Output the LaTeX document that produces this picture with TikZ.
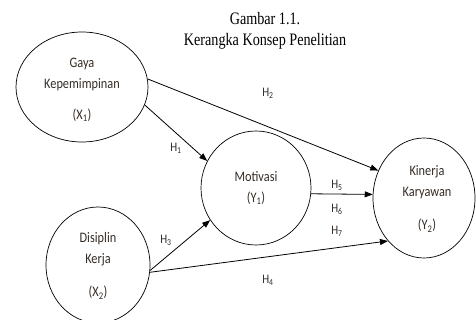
\documentclass[tikz,border=0pt]{standalone}
\usepackage{fontspec}
\setmainfont{Carlito}[FakeStretch=0.85]
\newfontfamily\titlefont{Liberation Serif}[FakeStretch=0.81]
\usetikzlibrary{shapes.geometric,arrows.meta}
\definecolor{txt}{RGB}{52,44,38}
\tikzset{
  var/.style={draw, ellipse, line width=0.7pt, inner sep=0pt, align=center, text=txt, font=\fontsize{14.5}{21}\selectfont},
  conn/.style={line width=0.8pt, -{Triangle[length=8pt,width=6pt]}},
  hlab/.style={text=txt, font=\fontsize{13}{15}\selectfont, inner sep=0pt}
}
\begin{document}
\begin{tikzpicture}[x=1pt,y=-1pt]
\useasboundingbox (0,0) rectangle (476,320);
\node[font=\titlefont\fontsize{17.5}{21.6}\selectfont, align=center] (title) at (265,31) {Gambar 1.1.\\Kerangka Konsep Penelitian};
\node[var, minimum width=132pt, minimum height=110pt] (x1) at (82,87) {};
\node[text=txt, font=\fontsize{14.5}{21}\selectfont, align=center] (x1t) at (82,90) {Gaya\\Kepemimpinan\\[10pt](X\textsubscript{1})};
\node[var, minimum width=110pt, minimum height=114pt] (y1) at (256,188) {Motivasi\\(Y\textsubscript{1})};
\node[var, minimum width=102pt, minimum height=120pt] (y2) at (424,198) {};
\node[text=txt, font=\fontsize{14.5}{21}\selectfont, align=center] (y2t) at (427,199) {Kinerja\\Karyawan\\[12pt](Y\textsubscript{2})};
\node[var, minimum width=104pt, minimum height=116pt] (x2) at (98,265) {};
\node[text=txt, font=\fontsize{14.5}{21}\selectfont, align=center] (x2t) at (98,266) {Disiplin\\Kerja\\[12pt](X\textsubscript{2})};
\draw[conn] (x1.7) -- (y2.149);
\draw[conn] (x1.-16) -- (y1.151);
\draw[conn] (x2.-6) -- (y1.215);
\draw[conn] (x2.-8) -- (y2.230);
\draw[conn] (y1.-6) -- (y2.176);
\node[hlab] (h2) at (268,93) {H\textsubscript{2}};
\node[hlab] (h1) at (176,148) {H\textsubscript{1}};
\node[hlab] (h3) at (166,240) {H\textsubscript{3}};
\node[hlab] (h4) at (268,280) {H\textsubscript{4}};
\node[hlab] (h5) at (337,185) {H\textsubscript{5}};
\node[hlab] (h6) at (337,209) {H\textsubscript{6}};
\node[hlab] (h7) at (337,231) {H\textsubscript{7}};
\end{tikzpicture}
\end{document}
